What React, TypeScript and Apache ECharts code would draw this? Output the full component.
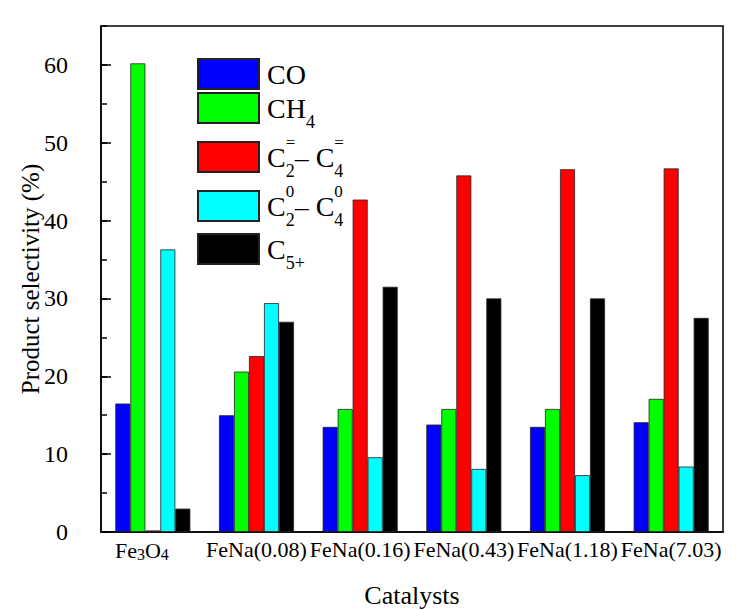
import React, { useEffect, useRef } from "react";
import * as echarts from "echarts";

// Catalysts on the x axis
const catalysts = ["Fe3O4", "FeNa(0.08)", "FeNa(0.16)", "FeNa(0.43)", "FeNa(1.18)", "FeNa(7.03)"];

// Product selectivity (%) for each catalyst
const coValues = [16.5, 15.0, 13.5, 13.8, 13.5, 14.1];
const ch4Values = [60.2, 20.6, 15.8, 15.8, 15.8, 17.1];
const olefinValues = [0.2, 22.6, 42.7, 45.8, 46.6, 46.7];
const paraffinValues = [36.3, 29.4, 9.6, 8.1, 7.3, 8.4];
const c5Values = [3.0, 27.0, 31.5, 30.0, 30.0, 27.5];

// Legend labels (rich-text markup for sub/superscripts)
const seriesNames = ["CO", "CH4", "C2=-C4=", "C20-C40", "C5+"];
const legendLabels = [
  "{p|}{m|CO}",
  "{p|}{m|CH}{sb|4}",
  "{p|}{m|C}{sp|=}{sc|2}{m|– C}{sp|=}{sc|4}",
  "{p|}{m|C}{sp|0}{sc|2}{m|– C}{sp|0}{sc|4}",
  "{p|}{m|C}{sb|5+}",
];
const seriesColors = ["#0000ff", "#00ff00", "#ff0000", "#00ffff", "#000000"];

// y-axis
const yMin = 0;
const yMax = 65;
const yMajor = 10;
const yMinor = 5;

const SERIF = "Liberation Serif";

export default function App() {
  const ref = useRef<HTMLDivElement>(null);

  useEffect(() => {
    if (!ref.current) return;
    const chart = echarts.init(ref.current, null, { renderer: "svg" });

    const allValues = [coValues, ch4Values, olefinValues, paraffinValues, c5Values];
    // top edge of each legend block
    const legendTops = [58, 92, 134, 183, 233];

    const richLegend = {
      p: { width: 3, lineHeight: 46, fontSize: 28, fontFamily: SERIF },
      m: { fontSize: 28, lineHeight: 46, fontFamily: SERIF, color: "#000", verticalAlign: "middle" },
      sb: { fontSize: 18, lineHeight: 18, fontFamily: SERIF, color: "#000", verticalAlign: "bottom" },
      sc: { fontSize: 18, lineHeight: 8, fontFamily: SERIF, color: "#000", verticalAlign: "bottom" },
      sp: { fontSize: 17, lineHeight: 8, fontFamily: SERIF, color: "#000", verticalAlign: "top", width: 0.01 },
    };

    const legends = seriesNames.map((name, i) => ({
      show: true,
      data: [name],
      orient: "vertical",
      left: 197,
      top: legendTops[i],
      padding: 0,
      itemWidth: 61,
      itemHeight: 30,
      icon: "rect",
      selectedMode: false,
      formatter: () => legendLabels[i],
      textStyle: { fontFamily: SERIF, rich: richLegend },
    }));

    const series = seriesNames.map((name, i) => ({
      name,
      type: "bar",
      data: allValues[i],
      barWidth: 15,
      barGap: "0%",
      yAxisIndex: 0,
      itemStyle: { color: seriesColors[i], borderColor: "#222", borderWidth: 0.8 },
    }));

    chart.setOption({
      animation: false,
      backgroundColor: "#ffffff",
      textStyle: { fontFamily: SERIF },
      grid: {
        left: 101,
        right: 14,
        top: 26,
        bottom: 78,
        show: true,
        borderColor: "#000",
        borderWidth: 1.5,
        backgroundColor: "transparent",
        outerBoundsMode: "none",
        containLabel: false,
      },
      legend: legends,
      xAxis: {
        type: "category",
        data: catalysts,
        name: "Catalysts",
        nameLocation: "middle",
        nameGap: 50,
        nameMoveOverlap: false,
        nameTextStyle: { fontSize: 26, fontFamily: SERIF, color: "#000" },
        axisLine: { lineStyle: { color: "#000", width: 1.5 } },
        axisTick: { show: false },
        axisLabel: {
          interval: 0,
          margin: 6,
          fontSize: 22,
          fontFamily: SERIF,
          color: "#000",
          formatter: (v: string) => (v === "Fe3O4" ? "{a|Fe}{s|3}{a|O}{s|4}{g|}" : v),
          rich: {
            a: { fontSize: 22, lineHeight: 24, fontFamily: SERIF, color: "#000" },
            s: { fontSize: 16, lineHeight: 17, fontFamily: SERIF, color: "#000", verticalAlign: "bottom" },
            g: { width: 22, fontSize: 16 },
          },
        },
        splitLine: { show: false },
      },
      yAxis: [
        {
          type: "value",
          min: yMin,
          max: yMax,
          interval: yMajor,
          name: "Product selectivity (%)",
          nameLocation: "middle",
          nameGap: 58,
          nameMoveOverlap: false,
          nameTextStyle: { fontSize: 25, fontFamily: SERIF, color: "#000" },
          axisLine: { show: true, lineStyle: { color: "#000", width: 1.5 } },
          axisTick: { show: true, inside: true, length: 10, lineStyle: { color: "#000", width: 1.5 } },
          axisLabel: {
            margin: 33,
            fontSize: 24,
            fontFamily: SERIF,
            color: "#000",
            showMaxLabel: false,
            formatter: (v: number) => (v % yMajor === 0 ? String(v) : ""),
          },
          splitLine: { show: false },
        },
        {
          type: "value",
          position: "left",
          min: yMin,
          max: yMax,
          interval: yMinor,
          axisLine: { show: false },
          axisTick: { show: true, inside: true, length: 6, lineStyle: { color: "#000", width: 1.5 } },
          axisLabel: { show: false },
          splitLine: { show: false },
        },
      ],
      series,
    });

    return () => chart.dispose();
  }, []);

  return (
    <div
      ref={ref}
      style={{ position: "fixed", left: 0, top: 0, width: 737, height: 610, background: "#fff" }}
    />
  );
}
